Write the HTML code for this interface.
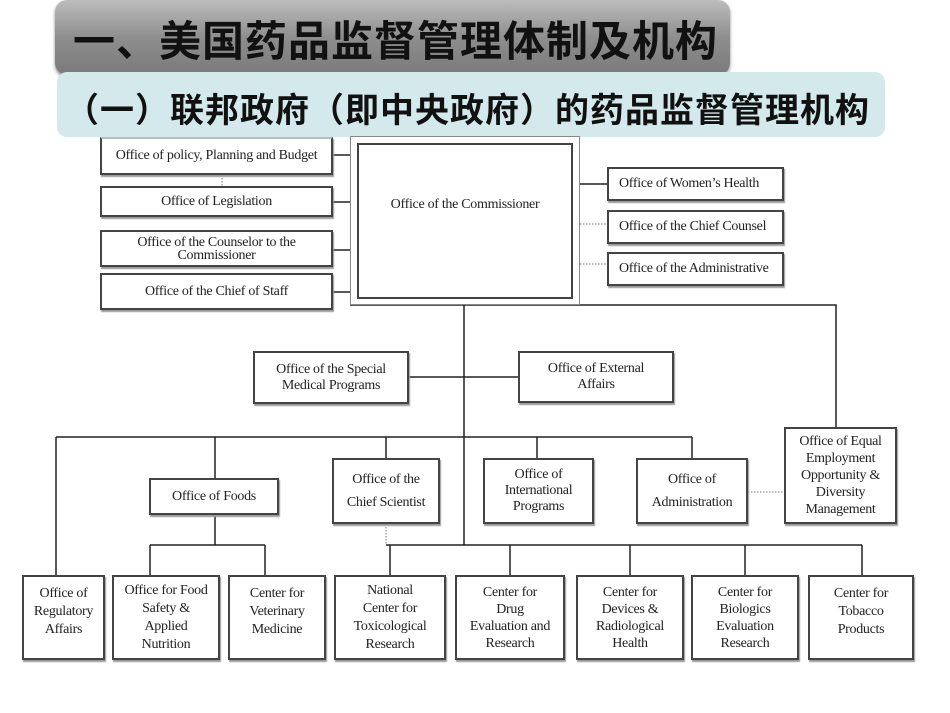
<!DOCTYPE html>
<html><head><meta charset="utf-8"><style>
*{margin:0;padding:0;box-sizing:border-box}
body{width:950px;height:713px;background:#fff;position:relative;overflow:hidden;font-family:"Liberation Serif",serif}
.t1{position:absolute;left:55px;top:0;width:675px;height:75px;border-radius:12px;background:linear-gradient(#bdbdbd,#8e8e8e 50%,#7a7a7a);box-shadow:0 2px 3px #888}
.t1 span{position:absolute;left:18px;top:8px;font:bold 42px "Noto Sans CJK SC",sans-serif;letter-spacing:1px;color:#111;white-space:nowrap}
.t2{position:absolute;left:57px;top:72px;width:828px;height:65px;border-radius:10px;background:#d3e9ec}
.t2 span{position:absolute;left:8px;top:11px;font:bold 34px "Noto Sans CJK SC",sans-serif;letter-spacing:1px;color:#111;white-space:nowrap}
.b{position:absolute;border:2px solid #444;background:#fff;display:flex;align-items:center;justify-content:center;text-align:center;font-size:14px;line-height:16px;color:#222;letter-spacing:-0.3px;box-shadow:1px 2px 1px #999}
svg{position:absolute;left:0;top:0}
</style></head><body>
<svg width="950" height="713">
<g stroke="#222" stroke-width="1.5" fill="none">
<path d="M333 155H350M333 202H350M333 250H350M333 292H350M580 184H607"/>
<path d="M350 305H836V427M464 305V545M409 377H518M56 437H692M56 437V575M215 437V478M386 437V458M537 437V458M692 437V458"/>
<path d="M215 515V545M150 545H265M150 545V575M265 545V575"/>
<path d="M386 545H862M390 545V575M510 545V575M630 545V575M745 545V575M862 545V575"/>
</g>
<g stroke="#777" stroke-width="1" stroke-dasharray="1.5 1.5" fill="none">
<path d="M580 224H607M580 264H607M748 492H784M386 524V545M222 175V186"/>
</g>
</svg>
<div class="t1"><span>一、美国药品监督管理体制及机构</span></div>
<div class="t2"><span>（一）联邦政府（即中央政府）的药品监督管理机构</span></div>
<div class="b" style="left:100px;top:137px;width:233px;height:38px;border-top-color:#bbb">Office of policy, Planning and Budget</div>
<div class="b" style="left:100px;top:186px;width:233px;height:31px">Office of Legislation</div>
<div class="b" style="left:100px;top:230px;width:233px;height:37px;line-height:13px">Office of the Counselor to the<br>Commissioner</div>
<div class="b" style="left:100px;top:273px;width:233px;height:37px">Office of the Chief of Staff</div>
<div class="b" style="left:350px;top:136px;width:230px;height:169px;border:1px solid #888;box-shadow:none"></div>
<div class="b" style="left:357px;top:143px;width:216px;height:156px;align-items:flex-start;padding-top:52px;box-shadow:none">Office of the Commissioner</div>
<div class="b" style="left:607px;top:167px;width:177px;height:34px;justify-content:flex-start;padding-left:10px">Office of Women’s Health</div>
<div class="b" style="left:607px;top:210px;width:177px;height:34px;justify-content:flex-start;padding-left:10px">Office of the Chief Counsel</div>
<div class="b" style="left:607px;top:252px;width:177px;height:34px;justify-content:flex-start;padding-left:10px">Office of the Administrative</div>
<div class="b" style="left:253px;top:351px;width:156px;height:53px">Office of the Special<br>Medical Programs</div>
<div class="b" style="left:518px;top:351px;width:156px;height:52px">Office of External<br>Affairs</div>
<div class="b" style="left:149px;top:478px;width:130px;height:37px">Office of Foods</div>
<div class="b" style="left:332px;top:458px;width:108px;height:66px;line-height:23px">Office of the<br>Chief Scientist</div>
<div class="b" style="left:483px;top:458px;width:111px;height:66px">Office of<br>International<br>Programs</div>
<div class="b" style="left:636px;top:458px;width:112px;height:66px;line-height:23px">Office of<br>Administration</div>
<div class="b" style="left:784px;top:427px;width:113px;height:97px;line-height:17px">Office of Equal<br>Employment<br>Opportunity &amp;<br>Diversity<br>Management</div>
<div class="b" style="left:22px;top:575px;width:83px;height:85px;align-items:flex-start;padding-top:8px;line-height:18px">Office of<br>Regulatory<br>Affairs</div>
<div class="b" style="left:112px;top:575px;width:108px;height:85px;line-height:18px">Office for Food<br>Safety &amp;<br>Applied<br>Nutrition</div>
<div class="b" style="left:228px;top:575px;width:98px;height:85px;align-items:flex-start;padding-top:8px;line-height:18px">Center for<br>Veterinary<br>Medicine</div>
<div class="b" style="left:334px;top:575px;width:112px;height:85px;line-height:18px">National<br>Center for<br>Toxicological<br>Research</div>
<div class="b" style="left:455px;top:575px;width:110px;height:85px;line-height:17px">Center for<br>Drug<br>Evaluation and<br>Research</div>
<div class="b" style="left:576px;top:575px;width:108px;height:85px;line-height:17px">Center for<br>Devices &amp;<br>Radiological<br>Health</div>
<div class="b" style="left:691px;top:575px;width:108px;height:85px;line-height:17px">Center for<br>Biologics<br>Evaluation<br>Research</div>
<div class="b" style="left:808px;top:575px;width:106px;height:85px;align-items:flex-start;padding-top:8px;line-height:18px">Center for<br>Tobacco<br>Products</div>
</body></html>
